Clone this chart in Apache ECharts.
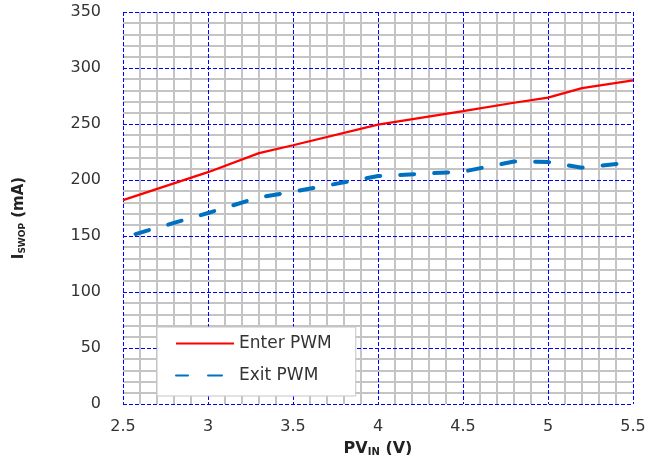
<!DOCTYPE html>
<html>
<head>
<meta charset="utf-8">
<script src="https://cdn.jsdelivr.net/npm/echarts@6/dist/echarts.min.js"></script>
<style>
html,body{margin:0;padding:0;background:#fff;}
#chart{width:647px;height:455px;}
</style>
</head>
<body>
<div id="chart"></div>
<script>
// Data
var pvIn = [2.5, 3.0, 3.3, 3.5, 4.0, 4.5, 4.8, 5.0, 5.2, 5.5];
var enterPWM = [182, 207, 224, 231, 249.5, 261.5, 269, 273.5, 282, 289];
var exitPWM = [148.5, 170.5, 184.5, 189.5, 203.5, 207.5, 216.5, 216, 211, 216];
var seriesNames = ['Enter PWM', 'Exit PWM'];
var xTicks = [2.5, 3, 3.5, 4, 4.5, 5, 5.5];
var yTicks = [0, 50, 100, 150, 200, 250, 300, 350];

function pairs(xs, ys) { return xs.map(function (x, i) { return [x, ys[i]]; }); }

var font = 'DejaVu Sans';
var chart = echarts.init(document.getElementById('chart'), null, { renderer: 'canvas' });
function majorLine() { return { color: '#0000ff', width: 1, type: [4, 2] }; }
var G = '#c4c4c4', T = 'rgba(255,255,255,0)';
function minorLine() { return { color: [T, G, G, G, G], width: 2, type: 'solid' }; }
var xMin = xTicks[0], xMax = xTicks[xTicks.length - 1];
var yMin = yTicks[0], yMax = yTicks[yTicks.length - 1];

chart.setOption({
  backgroundColor: '#ffffff',
  animation: false,
  grid: { left: 123, right: 14, top: 12, bottom: 51, containLabel: false, outerBoundsMode: 'none' },
  xAxis: [{
    type: 'value', z: 1,
    min: xMin, max: xMax, interval: 0.5,
    axisLine: { show: false }, axisTick: { show: false },
    axisLabel: { color: '#333', fontFamily: font, fontSize: 16, margin: 15 },
    splitLine: { show: true, lineStyle: majorLine() },
    name: '{a|PV}{s|IN}{a| (V)}',
    nameLocation: 'middle', nameGap: 31,
    nameTextStyle: {
      rich: {
        a: { fontFamily: font, fontWeight: 'bold', fontSize: 16, color: '#222', lineHeight: 20 },
        s: { fontFamily: font, fontWeight: 'bold', fontSize: 10, color: '#222', lineHeight: 20, padding: [8, 0, 0, 0] }
      }
    }
  }, {
    type: 'value', z: 0, position: 'bottom',
    min: xMin, max: xMax, interval: 0.1,
    axisLine: { show: false }, axisTick: { show: false }, axisLabel: { show: false },
    splitLine: { show: true, lineStyle: minorLine() }
  }],
  yAxis: [{
    type: 'value', z: 1,
    min: yMin, max: yMax, interval: 50,
    axisLine: { show: false }, axisTick: { show: false },
    axisLabel: { color: '#333', fontFamily: font, fontSize: 16, margin: 22 },
    splitLine: { show: true, lineStyle: majorLine() },
    name: '{a|I}{s|SWOP}{a| (mA)}',
    nameLocation: 'middle', nameGap: 94, nameRotate: 90,
    nameTextStyle: {
      padding: [0, 20, 0, 0],
      rich: {
        a: { fontFamily: font, fontWeight: 'bold', fontSize: 15, color: '#222', lineHeight: 20 },
        s: { fontFamily: font, fontWeight: 'bold', fontSize: 9, color: '#222', lineHeight: 20, padding: [8, 0, 0, 0] }
      }
    }
  }, {
    type: 'value', z: 0, position: 'left',
    min: yMin, max: yMax, interval: 10,
    axisLine: { show: false }, axisTick: { show: false }, axisLabel: { show: false },
    splitLine: { show: true, lineStyle: minorLine() }
  }],
  legend: {
    orient: 'vertical',
    left: 157, top: 327,
    padding: [8, 24, 12, 18],
    itemGap: 15, itemWidth: 58, itemHeight: 14,
    backgroundColor: '#ffffff',
    borderColor: '#c4c4c4', borderWidth: 1,
    itemStyle: { opacity: 0 },
    textStyle: { color: '#333', fontFamily: font, fontSize: 17 },
    data: [
      { name: seriesNames[0] },
      { name: seriesNames[1], lineStyle: { dashOffset: 2 } }
    ]
  },
  series: [
    {
      name: seriesNames[0], type: 'line', data: pairs(pvIn, enterPWM),
      xAxisIndex: 0, yAxisIndex: 0,
      symbol: 'none', smooth: false,
      lineStyle: { color: '#ff0000', width: 2.2 },
      itemStyle: { color: '#ff0000' }
    },
    {
      name: seriesNames[1], type: 'line', data: pairs(pvIn, exitPWM),
      xAxisIndex: 0, yAxisIndex: 0,
      symbol: 'none', smooth: false,
      lineStyle: { color: '#0070c0', width: 4, type: [14, 20], cap: 'round', dashOffset: 21 },
      itemStyle: { color: '#0070c0' }
    }
  ]
});
</script>
</body>
</html>
